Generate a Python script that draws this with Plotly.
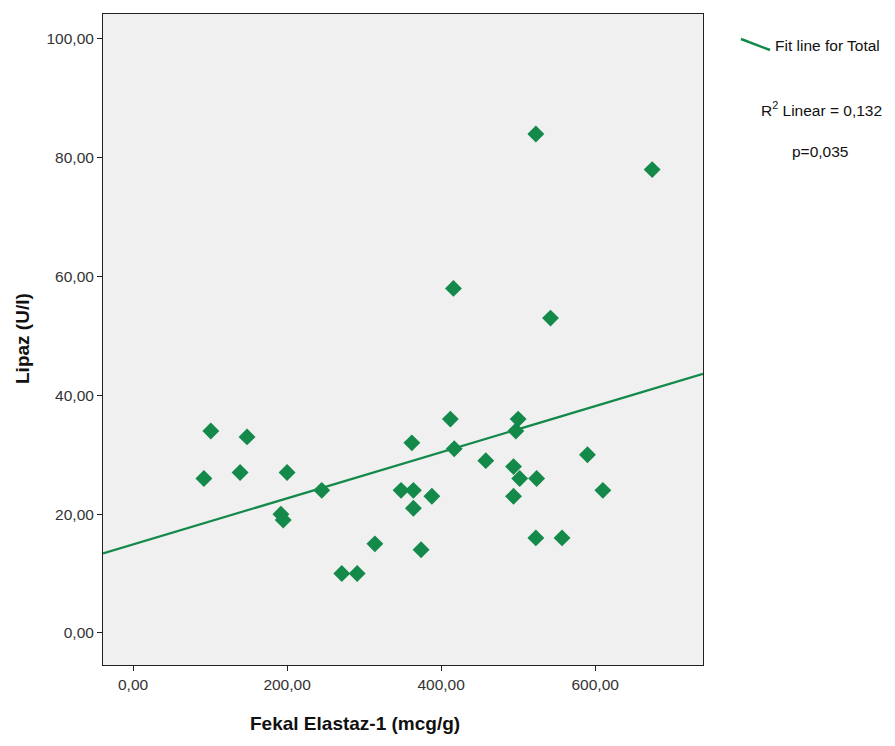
import plotly.graph_objects as go

# Data
fekal_elastaz = [92, 101, 139, 148, 192, 195, 200, 245, 271, 291, 314, 348, 362, 364, 364,
                 374, 388, 412, 416, 417, 458, 494, 494, 497, 500, 502, 523, 524, 523, 542,
                 557, 590, 610, 674]
lipaz = [26, 34, 27, 33, 20, 19, 27, 24, 10, 10, 15, 24, 32, 24, 21,
         14, 23, 36, 58, 31, 29, 28, 23, 34, 36, 26, 84, 26, 16, 53,
         16, 30, 24, 78]

fit_intercept = 14.9
fit_slope = 0.0388
x_range = [-39, 740]
y_range = [-5.4, 104.2]
x_ticks = [0, 200, 400, 600]
y_ticks = [0, 20, 40, 60, 80, 100]

green = "#13894a"
font_family = "Liberation Sans, Arial, sans-serif"

L, R, T, B = 103, 703, 14, 665
W, H = R - L, B - T


def px(xp):
    return (xp - L) / W


def py(yp):
    return (B - yp) / H


fig = go.Figure()
fig.add_trace(go.Scatter(
    x=x_range,
    y=[fit_intercept + fit_slope * v for v in x_range],
    mode="lines", line=dict(color=green, width=2.2), showlegend=False, hoverinfo="skip"))
fig.add_trace(go.Scatter(
    x=fekal_elastaz, y=lipaz, mode="markers",
    marker=dict(symbol="diamond", size=13, color=green, line=dict(width=0)),
    showlegend=False))

axis_common = dict(showline=True, linecolor="#222", linewidth=1, mirror=True,
                   ticks="outside", ticklen=5, tickcolor="#222", showgrid=False,
                   zeroline=False, tickformat=".2f",
                   tickfont=dict(family=font_family, size=15.5, color="#333"))

fig.update_layout(
    width=895, height=746,
    margin=dict(l=L, r=895 - R, t=T, b=746 - B),
    paper_bgcolor="white", plot_bgcolor="#f0f0f0",
    separators=",.",
    font=dict(family=font_family),
    xaxis=dict(range=x_range, tickvals=x_ticks, **axis_common),
    yaxis=dict(range=y_range, tickvals=y_ticks, **axis_common),
)

# Axis titles
fig.add_annotation(xref="paper", yref="paper", x=px(355), y=py(723),
                   text="<b>Fekal Elastaz-1 (mcg/g)</b>", showarrow=False,
                   xanchor="center", yanchor="middle",
                   font=dict(family=font_family, size=19, color="#111"))
fig.add_annotation(xref="paper", yref="paper", x=px(22), y=py(339),
                   text="<b>Lipaz (U/l)</b>", showarrow=False, textangle=-90,
                   xanchor="center", yanchor="middle",
                   font=dict(family=font_family, size=19, color="#111"))

# Legend-like fit line sample and labels
fig.add_shape(type="line", xref="paper", yref="paper",
              x0=px(741), y0=py(39), x1=px(770), y1=py(50),
              line=dict(color=green, width=2.5))
fig.add_annotation(xref="paper", yref="paper", x=px(773), y=py(46),
                   text="Fit line for Total", showarrow=False, xanchor="left", yanchor="middle",
                   font=dict(family=font_family, size=15.5, color="#111"))
fig.add_annotation(xref="paper", yref="paper", x=px(821), y=py(109),
                   text="R<sup>2</sup> Linear = 0,132", showarrow=False,
                   xanchor="center", yanchor="middle",
                   font=dict(family=font_family, size=15.5, color="#111"))
fig.add_annotation(xref="paper", yref="paper", x=px(820), y=py(151),
                   text="p=0,035", showarrow=False, xanchor="center", yanchor="middle",
                   font=dict(family=font_family, size=15.5, color="#111"))

fig.write_html("out.html")
